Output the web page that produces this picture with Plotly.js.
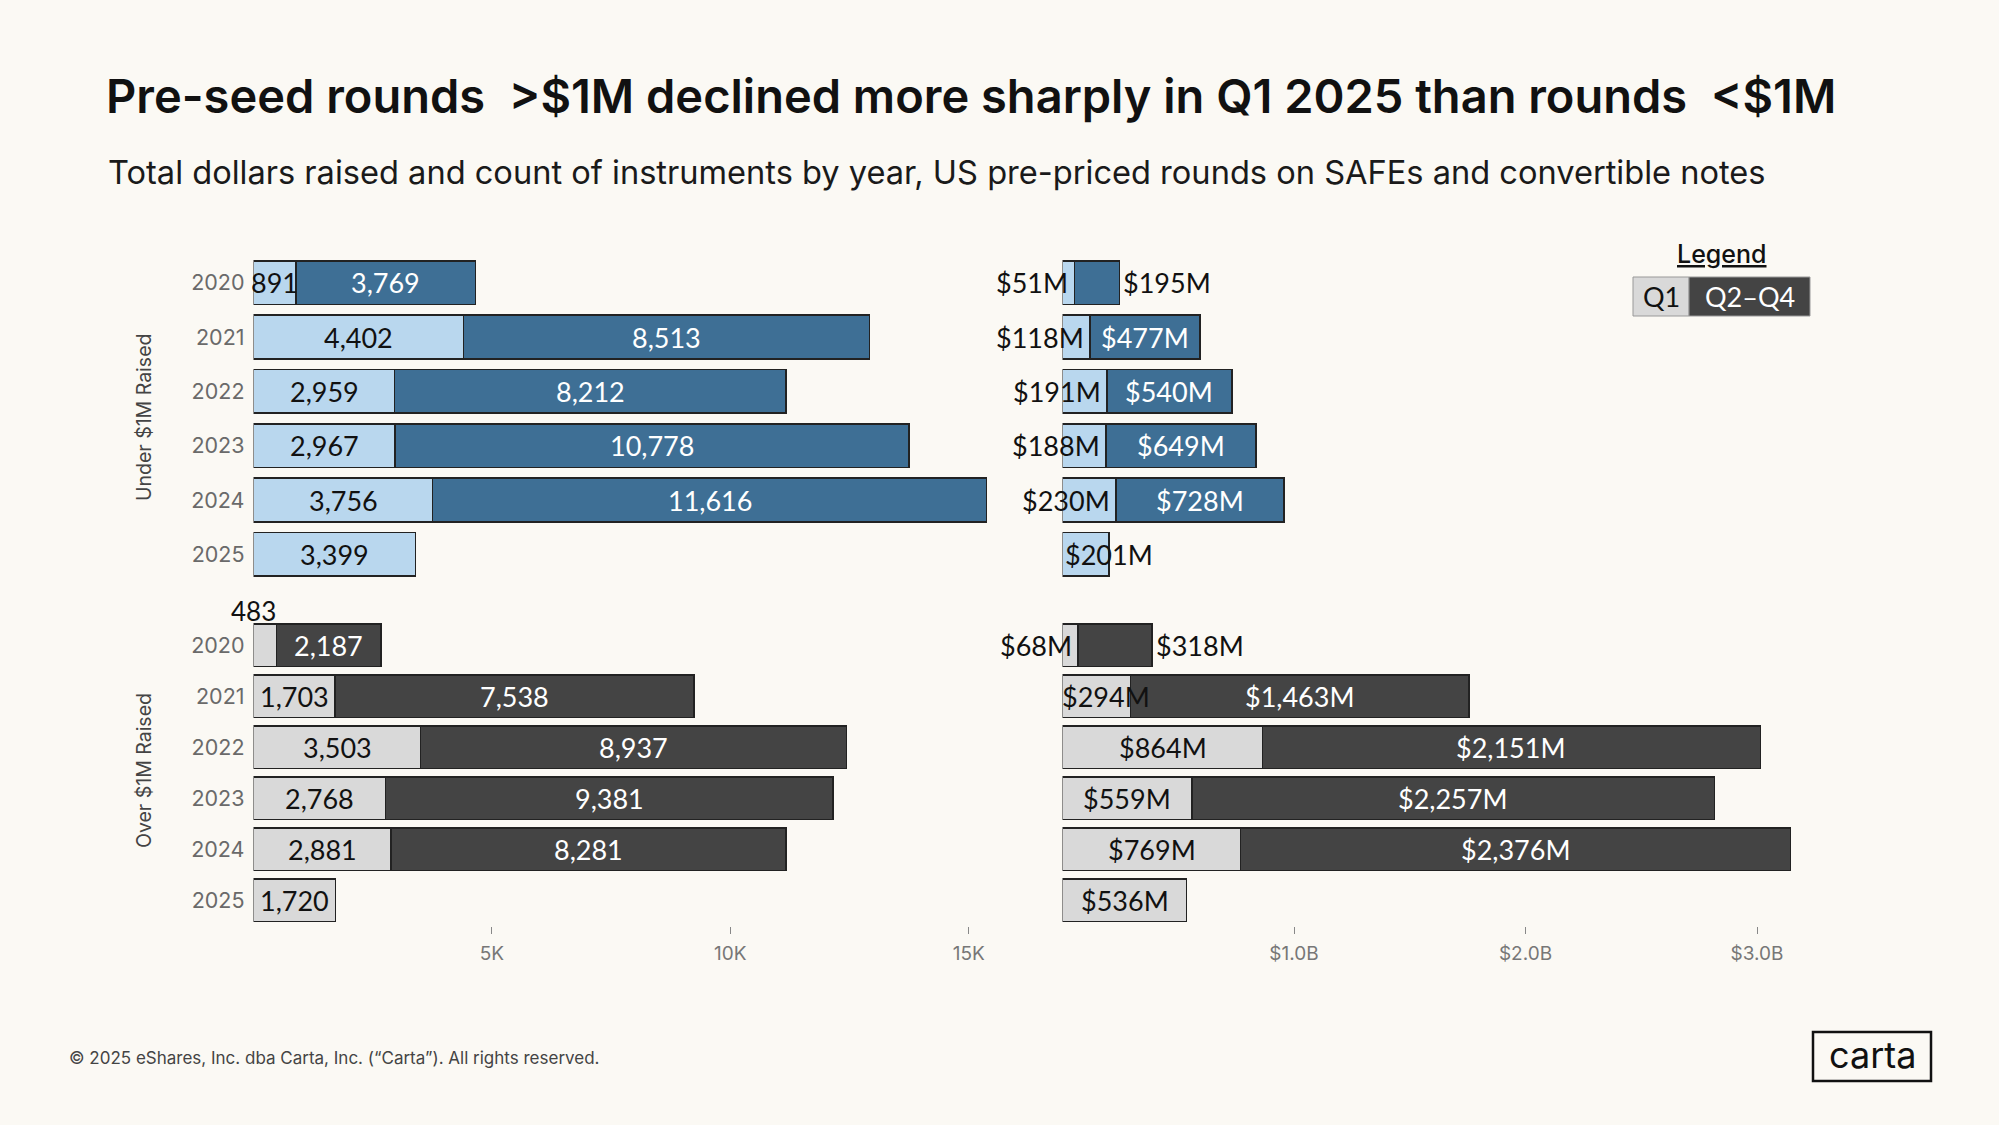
<!DOCTYPE html>
<html>
<head>
<meta charset="utf-8">
<script src="https://cdn.plot.ly/plotly-3.0.1.min.js"></script>
<style>
  html, body { margin: 0; padding: 0; background: #fbf9f4; }
  #chart { width: 1999px; height: 1125px; }
</style>
</head>
<body>
<div id="chart"></div>
<script>
// ---------------- DATA ----------------
const years = ['2020', '2021', '2022', '2023', '2024', '2025'];

// Count of instruments, rounds under $1M raised
const countUnderQ1   = [891, 4402, 2959, 2967, 3756, 3399];
const countUnderQ2Q4 = [3769, 8513, 8212, 10778, 11616, null];
// Count of instruments, rounds over $1M raised
const countOverQ1    = [483, 1703, 3503, 2768, 2881, 1720];
const countOverQ2Q4  = [2187, 7538, 8937, 9381, 8281, null];

// Total dollars raised ($M), rounds under $1M raised
const dollarsUnderQ1   = [51, 118, 191, 188, 230, 201];
const dollarsUnderQ2Q4 = [195, 477, 540, 649, 728, null];
// Total dollars raised ($M), rounds over $1M raised
const dollarsOverQ1    = [68, 294, 864, 559, 769, 536];
const dollarsOverQ2Q4  = [318, 1463, 2151, 2257, 2376, null];

const countTickVals = [5000, 10000, 15000];
const countTickText = ['5K', '10K', '15K'];
const dollarTickVals = [1000, 2000, 3000];
const dollarTickText = ['$1.0B', '$2.0B', '$3.0B'];

const groupTitles = ['Under $1M Raised', 'Over $1M Raised'];
const legendLabels = ['Q1', 'Q2\u2013Q4'];

// ---------------- STYLE ----------------
const W = 1999, H = 1125;
const px = x => x / W;
const py = y => 1 - y / H;

const BG = '#fbf9f4';
const C = {
  blueLight: '#b9d7ee', blue: '#3e6f95',
  grayLight: '#d9d9d9', grayDark: '#444444',
  outline: '#222222'
};
const LABEL_FONT = 'Lato, "Open Sans", sans-serif';
const MAIN_FONT = 'Inter, "Noto Sans", sans-serif';

const domLeft = [px(253.5), px(1016.4)];
const domRight = [px(1062.5), px(1803.3)];
const domTop = [py(581.5), py(255.5)];
const domBottom = [py(925.7), py(619.7)];

function barTrace(vals, color, xa, ya, w) {
  return {
    type: 'bar', orientation: 'h', x: vals, y: years,
    xaxis: xa, yaxis: ya, width: w,
    marker: { color: color, line: { color: C.outline, width: 1.6 } },
    hoverinfo: 'x+y', showlegend: false
  };
}

const traces = [
  barTrace(countUnderQ1, C.blueLight, 'x', 'y', 0.8),
  barTrace(countUnderQ2Q4, C.blue, 'x', 'y', 0.8),
  barTrace(countOverQ1, C.grayLight, 'x2', 'y2', 0.84),
  barTrace(countOverQ2Q4, C.grayDark, 'x2', 'y2', 0.84),
  barTrace(dollarsUnderQ1, C.blueLight, 'x3', 'y3', 0.8),
  barTrace(dollarsUnderQ2Q4, C.blue, 'x3', 'y3', 0.8),
  barTrace(dollarsOverQ1, C.grayLight, 'x4', 'y4', 0.84),
  barTrace(dollarsOverQ2Q4, C.grayDark, 'x4', 'y4', 0.84)
];

// label placement hints (style): c = centred in segment, r = right of Q1 end (anchored right),
// e = centred on Q1 end, o = outside right of total, a = above bar at start, s = start of bar
const fmtCount = v => v.toLocaleString('en-US');
const fmtDollar = v => '$' + v.toLocaleString('en-US') + 'M';

const annotations = [];
function addLabels(xr, yr, q1, q2, fmt, hintsQ1, hintsQ2) {
  years.forEach((yr_, i) => {
    const a = q1[i], b = q2[i];
    // on a category axis, annotation y is the category's serial index
    const base = { xref: xr, yref: yr, y: i, yanchor: 'middle', showarrow: false,
      font: { family: LABEL_FONT, size: 27, color: '#111' } };
    const h1 = hintsQ1[i] || 'c';
    let ann = Object.assign({}, base, { text: fmt(a) });
    if (h1 === 'c') { ann.x = a / 2; ann.xanchor = 'center'; }
    else if (h1 === 'r') { ann.x = a; ann.xanchor = 'right'; ann.xshift = -4; }
    else if (h1 === 'e') { ann.x = a; ann.xanchor = 'center'; }
    else if (h1 === 'a') { ann.x = 0; ann.xanchor = 'center'; ann.yshift = 34; ann.font = Object.assign({}, base.font, { size: 26 }); }
    else if (h1 === 's') { ann.x = 0; ann.xanchor = 'left'; ann.xshift = -3; }
    annotations.push(ann);
    if (b !== null && b !== undefined) {
      const h2 = hintsQ2[i] || 'c';
      let ann2 = Object.assign({}, base, { text: fmt(b) });
      if (h2 === 'c') { ann2.x = a + b / 2; ann2.xanchor = 'center'; ann2.font = Object.assign({}, base.font, { color: '#ffffff' }); }
      else if (h2 === 'o') { ann2.x = a + b; ann2.xanchor = 'left'; ann2.xshift = 2; }
      annotations.push(ann2);
    }
  });
}
addLabels('x', 'y', countUnderQ1, countUnderQ2Q4, fmtCount, [], []);
addLabels('x2', 'y2', countOverQ1, countOverQ2Q4, fmtCount, ['a'], []);
addLabels('x3', 'y3', dollarsUnderQ1, dollarsUnderQ2Q4, fmtDollar, ['r', 'r', 'r', 'r', 'r', 'e'], ['o']);
addLabels('x4', 'y4', dollarsOverQ1, dollarsOverQ2Q4, fmtDollar, ['r', 's'], ['o']);

function paperText(x, y, text, font, extra) {
  annotations.push(Object.assign({ xref: 'paper', yref: 'paper', x: px(x), y: py(y), text: text,
    xanchor: 'center', yanchor: 'middle', showarrow: false, font: font }, extra || {}));
}

// group titles (rotated)
paperText(144, 418, groupTitles[0], { family: MAIN_FONT, size: 19.5, color: '#444' }, { textangle: -90 });
paperText(144, 771, groupTitles[1], { family: MAIN_FONT, size: 19.5, color: '#444' }, { textangle: -90 });

// subtitle
paperText(106, 172, 'Total dollars raised and count of instruments by year, US pre-priced rounds on SAFEs and convertible notes',
  { family: MAIN_FONT, size: 32.6, color: '#1a1a1a' }, { xanchor: 'left' });

// legend
paperText(1722, 254, '<u>Legend</u>', { family: MAIN_FONT, size: 25, color: '#111', weight: 500 });
paperText(1661, 296.5, legendLabels[0], { family: LABEL_FONT, size: 27, color: '#111' });
paperText(1749.5, 296.5, legendLabels[1], { family: LABEL_FONT, size: 27, color: '#fff' });

// footer
paperText(67, 1058, '\u00a9 2025 eShares, Inc. dba Carta, Inc. (\u201cCarta\u201d). All rights reserved.',
  { family: MAIN_FONT, size: 17, color: '#444' }, { xanchor: 'left' });
paperText(1872, 1055, 'carta', { family: MAIN_FONT, size: 36, color: '#111' });

const shapes = [
  { type: 'rect', xref: 'paper', yref: 'paper', x0: px(1633), x1: px(1689), y0: py(316), y1: py(277),
    fillcolor: C.grayLight, line: { color: '#999', width: 1 } },
  { type: 'rect', xref: 'paper', yref: 'paper', x0: px(1689), x1: px(1810), y0: py(316), y1: py(277),
    fillcolor: C.grayDark, line: { color: '#999', width: 1 } },
  { type: 'rect', xref: 'paper', yref: 'paper', x0: px(1813), x1: px(1931), y0: py(1081), y1: py(1032),
    fillcolor: 'rgba(0,0,0,0)', line: { color: '#111', width: 2.5 } }
];

const yBase = {
  type: 'category', categoryorder: 'array', categoryarray: years, autorange: 'reversed',
  showgrid: false, zeroline: false, showline: false, ticks: '',
  tickfont: { family: MAIN_FONT, size: 21.5, color: '#6a6a6a' }, ticklabelstandoff: 8
};
const xBase = { showgrid: false, zeroline: false, showline: false, fixedrange: true };

const layout = {
  width: W, height: H,
  margin: { l: 0, r: 0, t: 0, b: 0 },
  paper_bgcolor: BG, plot_bgcolor: BG,
  barmode: 'stack',
  title: { text: 'Pre-seed rounds  >$1M declined more sharply in Q1 2025 than rounds  <$1M',
    x: px(106), xanchor: 'left', xref: 'paper', y: py(97), yanchor: 'middle',
    font: { family: MAIN_FONT, size: 47, color: '#111', weight: 600 } },
  xaxis: Object.assign({}, xBase, { domain: domLeft, range: [0, 16000], anchor: 'y', showticklabels: false }),
  yaxis: Object.assign({}, yBase, { domain: domTop, anchor: 'x' }),
  xaxis2: Object.assign({}, xBase, { domain: domLeft, range: [0, 16000], anchor: 'y2',
    tickvals: countTickVals, ticktext: countTickText, ticks: 'outside', ticklen: 7, tickcolor: '#888',
    ticklabelstandoff: 3, tickfont: { family: MAIN_FONT, size: 19, color: '#777' } }),
  yaxis2: Object.assign({}, yBase, { domain: domBottom, anchor: 'x2' }),
  xaxis3: Object.assign({}, xBase, { domain: domRight, range: [0, 3200], anchor: 'y3', showticklabels: false }),
  yaxis3: Object.assign({}, yBase, { domain: domTop, anchor: 'x3', showticklabels: false }),
  xaxis4: Object.assign({}, xBase, { domain: domRight, range: [0, 3200], anchor: 'y4',
    tickvals: dollarTickVals, ticktext: dollarTickText, ticks: 'outside', ticklen: 7, tickcolor: '#888',
    ticklabelstandoff: 3, tickfont: { family: MAIN_FONT, size: 19, color: '#777' } }),
  yaxis4: Object.assign({}, yBase, { domain: domBottom, anchor: 'x4', showticklabels: false }),
  annotations: annotations,
  shapes: shapes
};

Plotly.newPlot('chart', traces, layout, { staticPlot: true, displayModeBar: false });
</script>
</body>
</html>
